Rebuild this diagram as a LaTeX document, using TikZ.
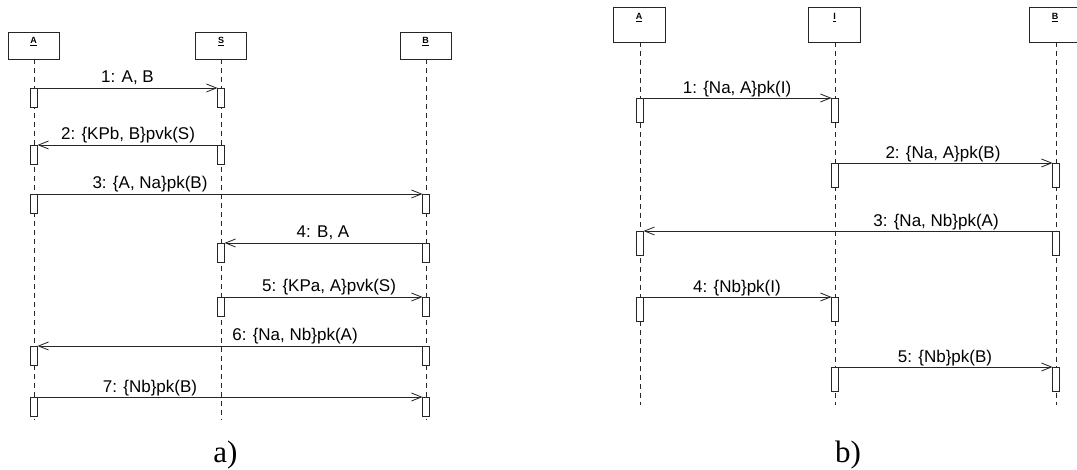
\documentclass[tikz,border=0pt]{standalone}
\usepackage{fontspec}
\setmainfont{Liberation Sans}
\newfontfamily\capfont{Liberation Serif}
\usetikzlibrary{arrows.meta}
\begin{document}
\begin{tikzpicture}[x=1pt,y=-1pt,
  every node/.style={inner sep=0pt, outer sep=0pt},
  lineclr/.style={draw=black!85, line width=0.8pt},
  hlab/.style={font=\fontsize{9}{9}\selectfont\bfseries, anchor=north},
  headL/.style={lineclr, rectangle, minimum width=51pt, minimum height=27pt,
    label={[hlab, yshift=-5.5pt]north:\underline{#1}}},
  headR/.style={lineclr, rectangle, minimum width=52pt, minimum height=35pt,
    label={[hlab, yshift=-6.5pt]north:\underline{#1}}},
  life/.style={lineclr, dash pattern=on 5pt off 4pt},
  actL/.style={lineclr, fill=white, rectangle, minimum width=7pt, minimum height=19pt, anchor=north},
  actR/.style={lineclr, fill=white, rectangle, minimum width=7pt, minimum height=24pt, anchor=north},
  msg/.style={lineclr, -{Straight Barb[length=10pt,width=8pt,line width=0.8pt]}},
  mlab/.style={font=\fontsize{17}{17}\selectfont, anchor=base},
  captxt/.style={font=\capfont\fontsize{31}{31}\selectfont, anchor=base}
]
\clip (0,0) rectangle (1077,470);
\fill[white] (0,0) rectangle (1077,470);

% ---------------- a) ----------------
\node[headL=A] (hA) at (33.5,45.5) {};
\node[headL=S] (hS) at (221,45.5) {};
\node[headL=B] (hB) at (425.5,45.5) {};
\coordinate (eA) at (34,420);
\coordinate (eS) at (221,420);
\coordinate (eB) at (426,420);
\draw[life] (hA.south -| eA) -- (eA);
\draw[life] (hS.south -| eS) -- (eS);
\draw[life] (hB.south -| eB) -- (eB);

% 1
\node[actL] (a1) at (34,88) {};
\node[actL] (s1) at (221,88) {};
\draw[msg] (a1.north east) -- (s1.north west);
\node[mlab] (l1) at (127.5,83) {1: A, B};
% 2
\node[actL] (s2) at (221,145) {};
\node[actL] (a2) at (34,145) {};
\draw[msg] (s2.north west) -- (a2.north east);
\node[mlab] (l2) at (128,140) {2: \{KPb, B\}pvk(S)};
% 3
\node[actL] (a3) at (34,194) {};
\node[actL] (b3) at (426,194) {};
\draw[msg] (a3.north east) -- (b3.north west);
\node[mlab] (l3) at (150,189) {3: \{A, Na\}pk(B)};
% 4
\node[actL] (b4) at (426,243) {};
\node[actL] (s4) at (221,243) {};
\draw[msg] (b4.north west) -- (s4.north east);
\node[mlab] (l4) at (323,238) {4: B, A};
% 5
\node[actL] (s5) at (221,297) {};
\node[actL] (b5) at (426,297) {};
\draw[msg] (s5.north east) -- (b5.north west);
\node[mlab] (l5) at (329,292) {5: \{KPa, A\}pvk(S)};
% 6
\node[actL] (b6) at (426,346) {};
\node[actL] (a6) at (34,346) {};
\draw[msg] (b6.north west) -- (a6.north east);
\node[mlab] (l6) at (295,341) {6: \{Na, Nb\}pk(A)};
% 7
\node[actL] (a7) at (34,397) {};
\node[actL] (b7) at (426,397) {};
\draw[msg] (a7.north east) -- (b7.north west);
\node[mlab] (l7) at (150,392) {7: \{Nb\}pk(B)};

\node[captxt] (capa) at (225.5,462) {a)};

% ---------------- b) ----------------
\node[headR=A] (rA) at (639,24.5) {};
\node[headR=I] (rI) at (834.5,24.5) {};
\node[headR=B] (rB) at (1055,24.5) {};
\coordinate (fA) at (640,405);
\coordinate (fI) at (835,405);
\coordinate (fB) at (1056,405);
\draw[life] (rA.south -| fA) -- (fA);
\draw[life] (rI.south -| fI) -- (fI);
\draw[life] (rB.south -| fB) -- (fB);

% 1
\node[actR] (ra1) at (640,98) {};
\node[actR] (ri1) at (835,98) {};
\draw[msg] (ra1.north east) -- (ri1.north west);
\node[mlab] (m1) at (737,93.5) {1: \{Na, A\}pk(I)};
% 2
\node[actR] (ri2) at (835,163) {};
\node[actR] (rb2) at (1056,163) {};
\draw[msg] (ri2.north east) -- (rb2.north west);
\node[mlab] (m2) at (943,158.5) {2: \{Na, A\}pk(B)};
% 3
\node[actR] (rb3) at (1056,231) {};
\node[actR] (ra3) at (640,231) {};
\draw[msg] (rb3.north west) -- (ra3.north east);
\node[mlab] (m3) at (936,226.5) {3: \{Na, Nb\}pk(A)};
% 4
\node[actR] (ra4) at (640,297) {};
\node[actR] (ri4) at (835,297) {};
\draw[msg] (ra4.north east) -- (ri4.north west);
\node[mlab] (m4) at (737,292.5) {4: \{Nb\}pk(I)};
% 5
\node[actR] (ri5) at (835,367) {};
\node[actR] (rb5) at (1056,367) {};
\draw[msg] (ri5.north east) -- (rb5.north west);
\node[mlab] (m5) at (945,362.5) {5: \{Nb\}pk(B)};

\node[captxt] (capb) at (848,462) {b)};
\end{tikzpicture}
\end{document}
